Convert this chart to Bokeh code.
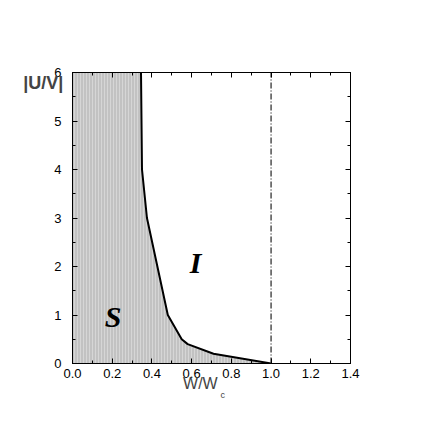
from bokeh.plotting import figure
from bokeh.models import LinearAxis, Range1d, FixedTicker, PrintfTickFormatter
from bokeh.core.properties import value
from bokeh.embed import file_html
from bokeh.resources import INLINE

# boundary between S and I phases
boundary_w = [0.345, 0.35, 0.375, 0.48, 0.55, 0.58, 0.71, 1.0]
boundary_u = [6.0, 4.0, 3.0, 1.0, 0.5, 0.4, 0.2, 0.0]
critical_w = 1.0
x_ticks = [0.0, 0.2, 0.4, 0.6, 0.8, 1.0, 1.2, 1.4]
y_ticks = [0, 1, 2, 3, 4, 5, 6]
region_labels = ["S", "I"]
region_w = [0.205, 0.62]
region_u = [0.97, 2.08]

p = figure(width=420, height=420, output_backend="svg", toolbar_location=None,
           x_range=Range1d(0, 1.4), y_range=Range1d(0, 6),
           min_border_left=72, min_border_top=72, min_border_right=70, min_border_bottom=57,
           x_axis_location=None, y_axis_location=None)
p.grid.visible = False
p.outline_line_color = "black"
p.outline_line_width = 1
p.background_fill_color = "white"
p.border_fill_color = "white"

# shaded S region
px = [0.0] + boundary_w + [0.0]
py = [boundary_u[0]] + boundary_u + [0.0]
p.patch(px, py, fill_color="#c2c2c2", line_color=None,
        hatch_pattern="vertical_line", hatch_color="#d6d6d6", hatch_scale=3, hatch_weight=1)
p.line(boundary_w, boundary_u, line_color="black", line_width=2)
p.line([critical_w, critical_w], [0, 6], line_color="#333333", line_width=1.3, line_dash="6 2 1 2")

p.text(x=region_w, y=region_u, text=region_labels, text_font=value("Liberation Serif"),
       text_font_style="bold italic", text_font_size="30px", text_align="center",
       text_baseline="middle", text_color="black")

def style(ax, labels=True):
    ax.axis_line_color = "black"
    ax.major_tick_in = 5
    ax.major_tick_out = 0
    ax.minor_tick_in = 3
    ax.minor_tick_out = 0
    ax.major_tick_line_color = "black"
    ax.minor_tick_line_color = "black"
    if labels:
        ax.major_label_text_font = "Liberation Sans"
        ax.major_label_text_font_size = "13px"
        ax.major_label_text_color = "black"
    else:
        ax.major_label_text_font_size = "0px"
        ax.major_label_text_color = None

xb = LinearAxis(ticker=FixedTicker(ticks=x_ticks, minor_ticks=[i / 10 for i in range(15)]),
                formatter=PrintfTickFormatter(format="%.1f"))
style(xb)
xb.major_label_standoff = 5
xb.axis_label = "W/W" + "\u00a0" * 5
xb.axis_label_text_font = "Liberation Sans"
xb.axis_label_text_font_size = "16px"
xb.axis_label_text_font_style = "normal"
xb.axis_label_standoff = -6
p.add_layout(xb, "below")

xc = LinearAxis(ticker=FixedTicker(ticks=[]), axis_line_color=None,
                major_tick_line_color=None, minor_tick_line_color=None,
                major_label_text_font_size="0px")
xc.axis_label = "\u00a0" * 9 + "c"
xc.axis_label_text_font = "Liberation Sans"
xc.axis_label_text_font_size = "9px"
xc.axis_label_text_font_style = "normal"
xc.axis_label_standoff = -5
p.add_layout(xc, "below")

xt = LinearAxis(ticker=FixedTicker(ticks=x_ticks, minor_ticks=[i / 10 for i in range(15)]))
style(xt, False)
p.add_layout(xt, "above")

yl = LinearAxis(ticker=FixedTicker(ticks=y_ticks, minor_ticks=[i / 2 for i in range(13)]))
style(yl)
yl.major_label_standoff = 11
yl.axis_label = "\n|U/V|"
yl.axis_label_text_font = "Liberation Sans"
yl.axis_label_text_font_size = "18px"
yl.axis_label_text_font_style = "bold"
yl.axis_label_text_line_height = 1.0
yl.axis_label_orientation = "horizontal"
yl.axis_label_align = "end"
yl.axis_label_standoff = -12
p.add_layout(yl, "left")
yr = LinearAxis(ticker=FixedTicker(ticks=y_ticks, minor_ticks=[i / 2 for i in range(13)]))
style(yr, False)
p.add_layout(yr, "right")

open("out.html", "w").write(file_html(p, INLINE))
